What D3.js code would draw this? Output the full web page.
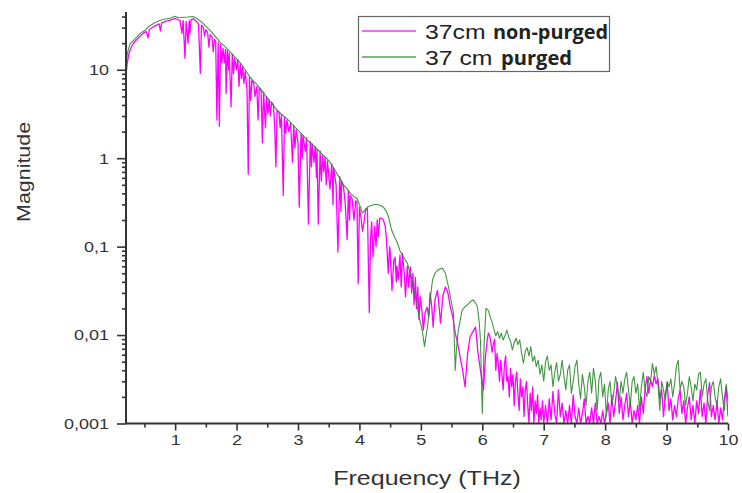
<!DOCTYPE html>
<html>
<head>
<meta charset="utf-8">
<script src="https://cdnjs.cloudflare.com/ajax/libs/d3/7.8.5/d3.min.js"></script>
<style>
  body { margin: 0; background: #fff; }
  .tickText { font-family: "Liberation Sans", Arial, sans-serif; font-size: 15px; fill: #333; }
  .axisText { font-family: "Liberation Sans", Arial, sans-serif; fill: #333; }
</style>
</head>
<body>
<div id="chart"></div>
<script>
// [frequency (THz), magnitude]
var purgedPoints = [
  [0.20, 11.5], [0.22, 15], [0.25, 18], [0.27, 19.9], [0.31, 21], [0.35, 22.5], [0.39, 24], [0.43, 25.8],
  [0.51, 28], [0.59, 31.5], [0.67, 34], [0.76, 36.3], [0.84, 37.5], [0.92, 38.2], [1.00, 40.3], [1.05, 38.8],
  [1.13, 39.2], [1.21, 39.5], [1.29, 40], [1.35, 38], [1.44, 34.4], [1.50, 31], [1.57, 27.9], [1.65, 24],
  [1.73, 20.5], [1.82, 18], [1.90, 15.8], [1.98, 13.8], [2.06, 12], [2.14, 10], [2.22, 8.2], [2.28, 7.4],
  [2.34, 6.7], [2.42, 5.7], [2.50, 4.8], [2.58, 4.1], [2.66, 3.5], [2.74, 3.1], [2.82, 2.8], [2.90, 2.45],
  [2.99, 2.1], [3.07, 1.85], [3.15, 1.6], [3.24, 1.42], [3.33, 1.23], [3.40, 1.1], [3.48, 0.98], [3.56, 0.82],
  [3.64, 0.66], [3.69, 0.58], [3.74, 0.50], [3.80, 0.45], [3.85, 0.40], [3.91, 0.37], [3.96, 0.35], [4.00, 0.30],
  [4.05, 0.24], [4.09, 0.26], [4.13, 0.28], [4.18, 0.29], [4.24, 0.30], [4.29, 0.30], [4.35, 0.29], [4.39, 0.28],
  [4.44, 0.25], [4.47, 0.22], [4.50, 0.18], [4.53, 0.15], [4.58, 0.125], [4.62, 0.11], [4.66, 0.09], [4.70, 0.08],
  [4.74, 0.072], [4.78, 0.065], [4.82, 0.052], [4.86, 0.042], [4.90, 0.03], [4.94, 0.021], [4.98, 0.015], [5.02, 0.0115],
  [5.06, 0.0074], [5.08, 0.0095], [5.11, 0.0125], [5.15, 0.025], [5.19, 0.042], [5.23, 0.05], [5.27, 0.054], [5.31, 0.056],
  [5.35, 0.057], [5.40, 0.050], [5.45, 0.035], [5.49, 0.025], [5.53, 0.018], [5.56, 0.004], [5.58, 0.007], [5.61, 0.0114],
  [5.67, 0.019], [5.72, 0.021], [5.76, 0.022], [5.81, 0.024], [5.85, 0.025], [5.89, 0.023], [5.92, 0.021], [5.95, 0.014],
  [5.97, 0.0088], [6.00, 0.0013], [6.03, 0.008], [6.06, 0.020], [6.10, 0.019], [6.13, 0.016], [6.16, 0.014], [6.19, 0.0115],
  [6.22, 0.0098], [6.25, 0.011], [6.28, 0.0092], [6.31, 0.0105], [6.34, 0.0088], [6.37, 0.0098], [6.40, 0.0114], [6.43, 0.0095],
  [6.46, 0.0085], [6.49, 0.0068], [6.52, 0.0082], [6.55, 0.0092], [6.58, 0.0078], [6.61, 0.0088], [6.64, 0.0062], [6.67, 0.0048],
  [6.70, 0.0066], [6.73, 0.0072], [6.76, 0.0058], [6.79, 0.0074], [6.82, 0.0050], [6.85, 0.0058], [6.88, 0.0044], [6.91, 0.0052],
  [6.94, 0.0036], [6.97, 0.0046], [7.00, 0.0030], [7.03, 0.0050], [7.06, 0.0058], [7.09, 0.0040], [7.12, 0.0046], [7.15, 0.0026],
  [7.18, 0.0038], [7.21, 0.0049], [7.24, 0.0030], [7.27, 0.0036], [7.30, 0.0052], [7.33, 0.0034], [7.36, 0.0024], [7.39, 0.0040],
  [7.42, 0.0046], [7.45, 0.0022], [7.48, 0.0030], [7.51, 0.0044], [7.54, 0.0052], [7.57, 0.0028], [7.60, 0.0019], [7.63, 0.0036],
  [7.66, 0.0026], [7.69, 0.0016], [7.72, 0.0030], [7.75, 0.0038], [7.78, 0.0022], [7.81, 0.0042], [7.84, 0.0030], [7.87, 0.0014],
  [7.90, 0.0032], [7.93, 0.0038], [7.96, 0.0020], [7.99, 0.0028], [8.02, 0.0012], [8.05, 0.0024], [8.08, 0.0030], [8.11, 0.0016],
  [8.14, 0.0022], [8.17, 0.0034], [8.20, 0.0026], [8.23, 0.0018], [8.26, 0.0030], [8.29, 0.0022], [8.32, 0.0032], [8.35, 0.0038],
  [8.38, 0.0024], [8.41, 0.0016], [8.44, 0.0030], [8.47, 0.0034], [8.50, 0.0022], [8.53, 0.0028], [8.56, 0.0014], [8.59, 0.0026],
  [8.62, 0.0038], [8.65, 0.0024], [8.68, 0.0020], [8.71, 0.0034], [8.74, 0.0030], [8.77, 0.0048], [8.80, 0.0036], [8.83, 0.0044],
  [8.86, 0.0028], [8.89, 0.0014], [8.92, 0.0030], [8.95, 0.0024], [8.98, 0.0018], [9.01, 0.0030], [9.04, 0.0026], [9.07, 0.0032],
  [9.10, 0.0020], [9.13, 0.0028], [9.16, 0.0044], [9.19, 0.0052], [9.22, 0.0024], [9.25, 0.0030], [9.28, 0.0026], [9.31, 0.0016],
  [9.34, 0.0022], [9.37, 0.0034], [9.40, 0.0026], [9.43, 0.0018], [9.46, 0.0028], [9.49, 0.0024], [9.52, 0.0036], [9.55, 0.0038],
  [9.58, 0.0020], [9.61, 0.0028], [9.64, 0.0032], [9.67, 0.0018], [9.70, 0.0014], [9.73, 0.0026], [9.76, 0.0030], [9.79, 0.0020],
  [9.82, 0.0016], [9.85, 0.0026], [9.88, 0.0032], [9.91, 0.0020], [9.94, 0.0014], [9.97, 0.0028], [10.0, 0.0018]
];

var nonPurgedPoints = [
  [0.20, 8.5], [0.22, 12], [0.25, 15.5], [0.30, 19], [0.35, 21], [0.43, 24], [0.50, 26.5], [0.53, 27],
  [0.56, 23], [0.58, 28.5], [0.66, 31], [0.74, 33], [0.76, 27.5], [0.78, 34], [0.86, 35.5], [0.92, 36.5],
  [0.97, 37.5], [1.00, 38], [1.04, 37], [1.08, 36], [1.11, 25.8], [1.13, 36], [1.16, 13.5], [1.18, 35],
  [1.21, 19.9], [1.23, 36], [1.24, 26], [1.26, 37], [1.30, 37.5], [1.35, 35], [1.38, 33], [1.41, 9.1],
  [1.43, 32], [1.46, 30], [1.48, 24], [1.50, 28.5], [1.53, 26], [1.55, 18], [1.57, 25], [1.60, 23.5],
  [1.62, 16], [1.64, 22], [1.66, 21], [1.68, 2.7], [1.70, 20.5], [1.72, 2.3], [1.74, 19.5], [1.76, 12],
  [1.78, 17.5], [1.80, 12], [1.82, 17], [1.83, 5.4], [1.85, 16.5], [1.87, 10], [1.88, 15.5], [1.91, 3.8],
  [1.93, 15], [1.95, 9], [1.97, 13.5], [2.00, 10], [2.02, 13], [2.04, 6.5], [2.06, 11.8], [2.08, 8],
  [2.10, 10.8], [2.12, 7], [2.14, 9.5], [2.17, 6], [2.19, 0.66], [2.21, 8.2], [2.23, 4.5], [2.25, 7.6],
  [2.28, 7.0], [2.30, 5], [2.33, 6.5], [2.35, 2.7], [2.37, 6.3], [2.40, 5.8], [2.42, 1.5], [2.44, 5.6],
  [2.47, 2.2], [2.49, 5.0], [2.51, 3.2], [2.53, 4.6], [2.55, 3.0], [2.57, 4.3], [2.60, 4.0], [2.62, 2.4],
  [2.64, 0.8], [2.66, 3.5], [2.69, 3.3], [2.71, 2.2], [2.73, 3.1], [2.76, 0.38], [2.78, 2.9], [2.80, 1.9],
  [2.82, 2.7], [2.85, 2.0], [2.88, 2.5], [2.91, 0.9], [2.93, 2.35], [2.95, 1.3], [2.97, 2.1], [3.00, 1.5],
  [3.02, 0.28], [3.05, 1.9], [3.07, 1.0], [3.08, 1.8], [3.12, 1.2], [3.14, 1.7], [3.17, 0.18], [3.20, 1.55],
  [3.22, 0.8], [3.23, 1.45], [3.26, 0.9], [3.28, 1.35], [3.30, 0.6], [3.31, 1.25], [3.33, 0.18], [3.36, 1.2],
  [3.38, 0.55], [3.40, 1.08], [3.42, 0.7], [3.44, 1.02], [3.46, 0.5], [3.48, 0.93], [3.52, 0.45], [3.55, 0.86],
  [3.57, 0.3], [3.58, 0.78], [3.62, 0.5], [3.65, 0.087], [3.68, 0.62], [3.70, 0.25], [3.71, 0.55], [3.74, 0.48],
  [3.77, 0.3], [3.80, 0.12], [3.82, 0.43], [3.84, 0.2], [3.85, 0.38], [3.88, 0.35], [3.91, 0.2], [3.94, 0.33],
  [3.96, 0.32], [3.98, 0.038], [4.00, 0.28], [4.03, 0.2], [4.05, 0.15], [4.08, 0.2], [4.10, 0.26], [4.13, 0.27],
  [4.16, 0.018], [4.18, 0.12], [4.20, 0.19], [4.22, 0.076], [4.25, 0.17], [4.27, 0.1], [4.29, 0.2], [4.31, 0.13],
  [4.33, 0.21], [4.36, 0.21], [4.39, 0.2], [4.42, 0.17], [4.44, 0.12], [4.47, 0.05], [4.49, 0.1], [4.50, 0.09],
  [4.53, 0.032], [4.56, 0.07], [4.58, 0.076], [4.60, 0.04], [4.61, 0.06], [4.63, 0.042], [4.66, 0.08], [4.68, 0.035],
  [4.70, 0.084], [4.73, 0.05], [4.75, 0.027], [4.78, 0.06], [4.80, 0.035], [4.83, 0.059], [4.85, 0.03], [4.87, 0.05],
  [4.89, 0.022], [4.91, 0.045], [4.93, 0.02], [4.95, 0.035], [4.97, 0.015], [4.99, 0.027], [5.02, 0.018], [5.04, 0.0114],
  [5.07, 0.018], [5.10, 0.0207], [5.13, 0.016], [5.15, 0.030], [5.18, 0.02], [5.20, 0.0123], [5.23, 0.025], [5.27, 0.032],
  [5.30, 0.02], [5.32, 0.0136], [5.36, 0.028], [5.40, 0.035], [5.44, 0.03], [5.48, 0.0207], [5.52, 0.016], [5.56, 0.0105],
  [5.60, 0.008], [5.64, 0.0056], [5.68, 0.004], [5.72, 0.0026], [5.76, 0.006], [5.80, 0.0095], [5.85, 0.011], [5.89, 0.0123],
  [5.93, 0.0063], [5.97, 0.004], [6.02, 0.0024], [6.05, 0.0055], [6.08, 0.0088], [6.10, 0.0105], [6.12, 0.0098], [6.14, 0.0082],
  [6.16, 0.0064], [6.18, 0.0078], [6.20, 0.0090], [6.22, 0.0040], [6.24, 0.0062], [6.26, 0.0048], [6.28, 0.0030], [6.30, 0.0052],
  [6.32, 0.0036], [6.34, 0.0024], [6.36, 0.0046], [6.38, 0.0058], [6.40, 0.0030], [6.42, 0.0034], [6.44, 0.0020], [6.46, 0.0042],
  [6.48, 0.0026], [6.50, 0.0036], [6.52, 0.0016], [6.54, 0.0030], [6.56, 0.0038], [6.58, 0.0022], [6.60, 0.0014], [6.62, 0.0032],
  [6.64, 0.0020], [6.66, 0.0026], [6.68, 0.0012], [6.70, 0.0024], [6.72, 0.0030], [6.74, 0.0016], [6.76, 0.001], [6.78, 0.0022],
  [6.80, 0.0014], [6.82, 0.0026], [6.84, 0.001], [6.86, 0.0018], [6.88, 0.0013], [6.90, 0.0021], [6.92, 0.001], [6.94, 0.0015],
  [6.96, 0.0011], [6.98, 0.0018], [7.00, 0.001], [7.03, 0.0016], [7.06, 0.001], [7.09, 0.0019], [7.12, 0.0011], [7.15, 0.0023],
  [7.18, 0.0013], [7.21, 0.001], [7.24, 0.0024], [7.27, 0.0012], [7.30, 0.0017], [7.33, 0.001], [7.36, 0.0014], [7.39, 0.001],
  [7.42, 0.0016], [7.45, 0.001], [7.48, 0.0021], [7.51, 0.0012], [7.54, 0.001], [7.57, 0.0015], [7.60, 0.001], [7.63, 0.0013],
  [7.66, 0.0019], [7.69, 0.001], [7.72, 0.0012], [7.75, 0.001], [7.78, 0.0015], [7.81, 0.001], [7.84, 0.0017], [7.87, 0.001],
  [7.90, 0.0012], [7.93, 0.001], [7.96, 0.0014], [7.99, 0.001], [8.02, 0.0013], [8.05, 0.0017], [8.08, 0.001], [8.11, 0.0021],
  [8.14, 0.0012], [8.17, 0.0018], [8.20, 0.0029], [8.23, 0.0013], [8.26, 0.0020], [8.29, 0.0011], [8.32, 0.0016], [8.35, 0.0022],
  [8.38, 0.0012], [8.41, 0.0018], [8.44, 0.001], [8.47, 0.0014], [8.50, 0.0011], [8.53, 0.0016], [8.56, 0.001], [8.59, 0.0020],
  [8.62, 0.0013], [8.65, 0.0024], [8.68, 0.0034], [8.71, 0.0022], [8.74, 0.0031], [8.77, 0.0026], [8.80, 0.0035], [8.83, 0.0028],
  [8.86, 0.0032], [8.89, 0.0019], [8.92, 0.0024], [8.95, 0.0012], [8.98, 0.0021], [9.01, 0.0029], [9.04, 0.0014], [9.07, 0.0019],
  [9.10, 0.0011], [9.13, 0.0016], [9.16, 0.0012], [9.19, 0.0019], [9.22, 0.0024], [9.25, 0.0013], [9.28, 0.0018], [9.31, 0.001],
  [9.34, 0.0015], [9.37, 0.002], [9.40, 0.0011], [9.43, 0.0016], [9.46, 0.001], [9.49, 0.0018], [9.52, 0.0013], [9.55, 0.0024],
  [9.58, 0.0012], [9.61, 0.0017], [9.64, 0.001], [9.67, 0.0021], [9.70, 0.0029], [9.73, 0.0012], [9.76, 0.0016], [9.79, 0.0011],
  [9.82, 0.0018], [9.85, 0.001], [9.88, 0.0015], [9.91, 0.0011], [9.94, 0.0019], [9.97, 0.0026], [10.0, 0.0012]
];

// Axis ticks and labels
var xMajorTicks = [1, 2, 3, 4, 5, 6, 7, 8, 9, 10];
var xMinorTicks = [0.5, 1.5, 2.5, 3.5, 4.5, 5.5, 6.5, 7.5, 8.5, 9.5];
var yMajorTicks = [0.001, 0.01, 0.1, 1, 10];
var yTickLabels = ["0,001", "0,01", "0,1", "1", "10"];
var seriesNames = ["37cm", "37 cm"];
var seriesTags = ["non-purged", "purged"];
var seriesColors = ["#ff00ff", "#2e8b2e"];

// SVG area
var svgWidth = 742;
var svgHeight = 493;

var chartMargin = {
  top: 12,
  right: 14,
  bottom: 69.5,
  left: 126
};

var chartWidth = svgWidth - chartMargin.left - chartMargin.right;
var chartHeight = svgHeight - chartMargin.top - chartMargin.bottom;

var svg = d3.select("#chart")
  .append("svg")
  .attr("width", svgWidth)
  .attr("height", svgHeight)
  .style("background", "#fff");

var chartGroup = svg.append("g")
  .attr("transform", `translate(${chartMargin.left}, ${chartMargin.top})`);

// Scales
var xLinearScale = d3.scaleLinear()
  .domain([0.2, 10])
  .range([0, chartWidth]);

var yLogScale = d3.scaleLog()
  .domain([0.001, 45])
  .range([chartHeight, 0]);

// the original text looks a bit stretched sideways
function stretch(sel, k) {
  sel.each(function() {
    var w = this.getComputedTextLength();
    d3.select(this).attr("textLength", w * k).attr("lengthAdjust", "spacingAndGlyphs");
  });
}

// Clip the traces to the plot area
chartGroup.append("clipPath")
  .attr("id", "plotClip")
  .append("rect")
  .attr("x", 0)
  .attr("y", 0)
  .attr("width", chartWidth)
  .attr("height", chartHeight);

var line = d3.line()
  .x(d => xLinearScale(d[0]))
  .y(d => yLogScale(Math.max(d[1], 0.001)));

chartGroup.append("path")
  .datum(nonPurgedPoints)
  .attr("clip-path", "url(#plotClip)")
  .attr("d", line)
  .attr("fill", "none")
  .attr("stroke", seriesColors[0])
  .attr("stroke-width", 1.3)
  .attr("stroke-linejoin", "round");

chartGroup.append("path")
  .datum(purgedPoints)
  .attr("clip-path", "url(#plotClip)")
  .attr("d", line)
  .attr("fill", "none")
  .attr("stroke", seriesColors[1])
  .attr("stroke-width", 1.1)
  .attr("stroke-opacity", 0.9)
  .attr("stroke-linejoin", "round");

// Left axis (log, major + minor ticks)
var yMinorTicks = [];
yMajorTicks.forEach(function(t) {
  for (var k = 2; k <= 9; k++) {
    if (t * k <= 45) yMinorTicks.push(t * k);
  }
});

var leftMinor = chartGroup.append("g")
  .call(d3.axisLeft(yLogScale).tickValues(yMinorTicks).tickSize(4).tickFormat(""));

var leftAxis = chartGroup.append("g")
  .call(d3.axisLeft(yLogScale)
    .tickValues(yMajorTicks)
    .tickSize(9)
    .tickPadding(8)
    .tickFormat((d, i) => yTickLabels[i]));

// Bottom axis
var bottomMinor = chartGroup.append("g")
  .attr("transform", `translate(0, ${chartHeight})`)
  .call(d3.axisBottom(xLinearScale).tickValues(xMinorTicks).tickSize(4).tickFormat(""));

var bottomAxis = chartGroup.append("g")
  .attr("transform", `translate(0, ${chartHeight})`)
  .call(d3.axisBottom(xLinearScale).tickValues(xMajorTicks).tickSize(7).tickPadding(4));

[leftMinor, leftAxis, bottomMinor, bottomAxis].forEach(function(g) {
  g.selectAll(".domain").attr("stroke", "#333").attr("stroke-width", 2);
  g.selectAll(".tick line").attr("stroke", "#333").attr("stroke-width", 1.6);
  g.selectAll("text").attr("class", "tickText").attr("font-size", null).attr("font-family", null).attr("fill", null);
});
leftAxis.selectAll(".domain").attr("d", `M0,${chartHeight}V0`);
leftMinor.selectAll(".domain").remove();
bottomMinor.selectAll(".domain").remove();
bottomAxis.selectAll(".domain").attr("d", `M0,0H${chartWidth}`);

stretch(leftAxis.selectAll("text"), 1.2);
stretch(bottomAxis.selectAll("text"), 1.2);

// Axis titles
var yTitle = chartGroup.append("text")
  .attr("transform", `translate(${30 - chartMargin.left}, ${yLogScale(0.7)}) rotate(-90)`)
  .attr("class", "axisText")
  .attr("text-anchor", "middle")
  .style("font-size", "18px")
  .text("Magnitude");
yTitle.attr("textLength", 100).attr("lengthAdjust", "spacingAndGlyphs");

var xTitle = chartGroup.append("text")
  .attr("transform", `translate(${427 - chartMargin.left}, ${485 - chartMargin.top})`)
  .attr("class", "axisText")
  .attr("text-anchor", "middle")
  .style("font-size", "21px")
  .text("Frequency (THz)");
stretch(xTitle, 1.19);

// Legend
var legend = svg.append("g");

legend.append("rect")
  .attr("x", 358.5)
  .attr("y", 16.5)
  .attr("width", 251)
  .attr("height", 55)
  .attr("fill", "#fff")
  .attr("stroke", "#666")
  .attr("stroke-width", 1.2);

seriesNames.forEach(function(name, i) {
  var rowY = 31 + i * 26;
  legend.append("line")
    .attr("x1", 362)
    .attr("x2", 416)
    .attr("y1", rowY)
    .attr("y2", rowY)
    .attr("stroke", seriesColors[i])
    .attr("stroke-width", 1.6)
    .attr("stroke-opacity", 0.8);

  var t = legend.append("text")
    .attr("x", 425)
    .attr("y", rowY + 7.5)
    .attr("class", "axisText")
    .style("font-size", "21px")
    .style("fill", "#222")
    .text(name);
  stretch(t, 1.18);

  legend.append("text")
    .attr("x", i == 0 ? 493 : 501)
    .attr("y", rowY + 7.5)
    .style("font-family", "'Open Sans', sans-serif")
    .style("font-weight", "bold")
    .style("font-size", "19px")
    .style("fill", "#222")
    .text(seriesTags[i])
    .attr("textLength", i == 0 ? 115 : 71)
    .attr("lengthAdjust", "spacingAndGlyphs");
});
</script>
</body>
</html>
